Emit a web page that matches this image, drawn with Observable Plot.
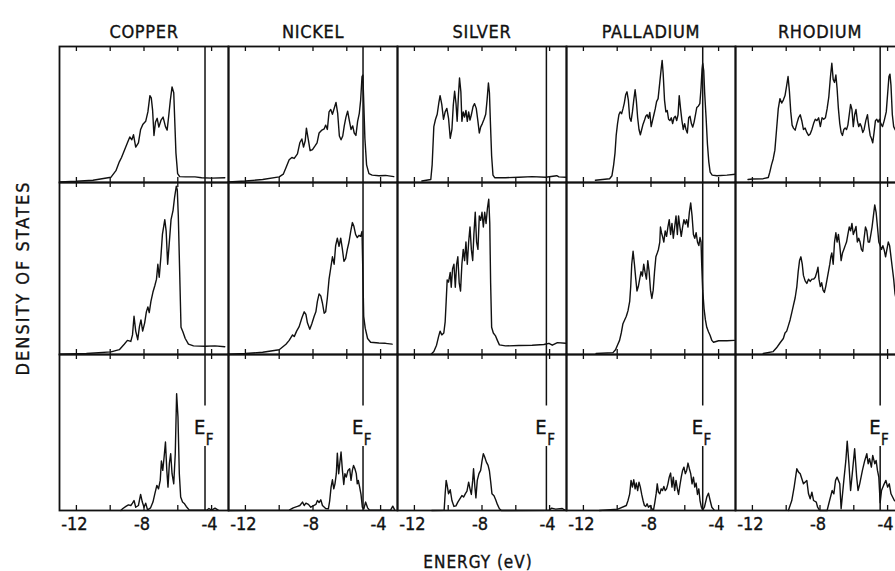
<!DOCTYPE html>
<html><head><meta charset="utf-8">
<script src="https://cdn.jsdelivr.net/npm/d3@7"></script>
<script src="https://cdn.jsdelivr.net/npm/@observablehq/plot@0.6"></script>
<style>
html,body{margin:0;padding:0;background:#fff;overflow:hidden;}
#fig{position:relative;width:895px;height:571px;overflow:hidden;background:#fff;}
#fig svg{position:absolute;left:0;overflow:visible;}
#fig svg text{letter-spacing:0.7px;stroke:#111;stroke-width:0.35px;}
#fig svg g[aria-label="x-axis tick label"] text{letter-spacing:0;}
.lbl{position:absolute;font-family:"DejaVu Sans Condensed","DejaVu Sans",sans-serif;font-stretch:condensed;color:#111;white-space:nowrap;transform-origin:center;-webkit-text-stroke:0.35px #111;}
</style></head><body><div id="fig"></div>
<script>
const metals = ["COPPER","NICKEL","SILVER","PALLADIUM","RHODIUM"];
const fermiEnergy = [-4.39,-5.04,-4.19,-4.94,-4.44];
const energyTicks = [-12,-10,-8,-6,-4];
const energyLabels = [-12,-8,-4];

// [energy (eV), density of states (% of panel height)]
const copperUpper = [[-12.98,0.4],[-12.0,0.9],[-11.02,1.7],[-9.95,3.9],[-9.66,8.7],[-9.46,15.2],[-9.33,18.4],[-9.17,23.4],[-8.98,29.2],[-8.84,33.5],[-8.72,31.4],[-8.62,35.1],[-8.49,26.0],[-8.33,29.2],[-8.20,39.0],[-8.06,42.9],[-7.90,45.0],[-7.77,51.9],[-7.65,63.9],[-7.57,62.3],[-7.49,53.0],[-7.41,34.6],[-7.32,44.4],[-7.22,47.2],[-7.12,40.7],[-6.99,45.9],[-6.87,48.1],[-6.73,41.1],[-6.63,38.5],[-6.54,48.7],[-6.44,60.6],[-6.34,70.3],[-6.24,66.0],[-6.19,48.7],[-6.11,21.6],[-6.01,6.5],[-5.89,4.3],[-5.56,4.1],[-4.98,4.1],[-4.59,3.5],[-4.0,3.2],[-3.22,3.5]];
const copperMiddle = [[-12.98,0.2],[-11.41,0.6],[-9.95,1.5],[-9.46,2.8],[-9.17,6.0],[-8.98,8.2],[-8.78,7.6],[-8.68,11.4],[-8.59,22.2],[-8.49,13.6],[-8.37,8.6],[-8.27,16.2],[-8.18,20.1],[-8.08,13.6],[-7.96,18.4],[-7.86,24.8],[-7.77,27.6],[-7.69,24.4],[-7.59,30.9],[-7.47,36.3],[-7.36,40.0],[-7.26,43.8],[-7.18,52.5],[-7.10,44.9],[-7.0,56.8],[-6.91,69.8],[-6.77,78.4],[-6.69,71.9],[-6.60,52.5],[-6.50,65.4],[-6.40,78.4],[-6.28,83.8],[-6.19,91.4],[-6.09,97.8],[-6.03,95.7],[-5.97,80.6],[-5.89,48.2],[-5.81,15.8],[-5.70,13.2],[-5.56,9.3],[-5.37,6.0],[-5.07,5.0],[-4.39,4.8],[-3.80,5.0],[-3.22,4.5]];
const copperLower = [[-9.37,0],[-9.27,1.1],[-9.07,2.6],[-8.92,3.6],[-8.78,3.2],[-8.68,4.7],[-8.59,6.4],[-8.49,2.1],[-8.33,3.2],[-8.20,10.3],[-8.10,5.4],[-8.0,2.1],[-7.90,4.7],[-7.79,0.4],[-7.61,1.7],[-7.47,5.4],[-7.36,10.7],[-7.24,16.1],[-7.14,13.9],[-7.04,19.3],[-6.97,31.7],[-6.89,25.7],[-6.81,34.3],[-6.73,43.9],[-6.65,25.7],[-6.58,15.0],[-6.50,30.0],[-6.42,36.4],[-6.34,23.6],[-6.24,17.1],[-6.15,36.4],[-6.07,74.9],[-5.99,60.0],[-5.91,23.6],[-5.83,8.6],[-5.72,5.4],[-5.60,4.3],[-5.50,2.6],[-5.33,0.4],[-4.29,0.2],[-4.16,1.3],[-4.0,0.2],[-3.80,1.5],[-3.61,0.2]];

const nickelUpper = [[-13.0,0.4],[-12.0,1.1],[-10.98,2.2],[-10.0,4.1],[-9.76,6.1],[-9.60,10.8],[-9.41,16.7],[-9.25,18.4],[-9.11,17.7],[-8.92,21.0],[-8.78,29.2],[-8.66,32.0],[-8.56,26.0],[-8.46,30.7],[-8.39,40.0],[-8.29,32.5],[-8.17,23.4],[-8.03,24.2],[-7.87,27.1],[-7.76,29.2],[-7.64,36.4],[-7.50,38.3],[-7.34,39.4],[-7.25,42.2],[-7.15,39.0],[-7.05,51.9],[-6.95,53.7],[-6.85,50.2],[-6.73,55.2],[-6.64,58.9],[-6.54,50.9],[-6.44,34.2],[-6.34,31.4],[-6.24,34.2],[-6.15,41.6],[-6.05,48.1],[-5.95,52.4],[-5.85,45.5],[-5.75,39.0],[-5.65,41.6],[-5.56,36.4],[-5.46,34.6],[-5.36,45.0],[-5.26,50.9],[-5.18,60.6],[-5.10,77.9],[-5.05,79.0],[-4.99,56.3],[-4.93,32.5],[-4.83,13.0],[-4.69,6.5],[-4.50,5.4],[-4.10,5.0],[-3.71,5.2],[-3.22,4.3]];
const nickelMiddle = [[-13.0,0.2],[-12.0,0.6],[-10.98,1.3],[-10.0,2.8],[-9.60,6.0],[-9.41,8.2],[-9.21,11.4],[-9.11,10.4],[-8.97,13.6],[-8.82,16.2],[-8.66,21.2],[-8.52,24.8],[-8.42,23.3],[-8.33,18.4],[-8.19,14.7],[-8.07,17.9],[-7.93,22.2],[-7.83,24.8],[-7.74,30.9],[-7.64,35.2],[-7.54,34.1],[-7.44,29.8],[-7.34,24.0],[-7.25,24.8],[-7.15,33.0],[-7.05,43.8],[-6.95,50.3],[-6.85,56.8],[-6.75,52.5],[-6.66,63.3],[-6.56,67.6],[-6.46,62.9],[-6.36,67.6],[-6.26,61.1],[-6.17,54.2],[-6.07,55.7],[-5.97,61.1],[-5.87,65.4],[-5.77,71.5],[-5.67,76.7],[-5.58,74.5],[-5.48,69.8],[-5.38,68.0],[-5.28,69.3],[-5.18,68.7],[-5.10,71.5],[-5.06,52.5],[-5.0,22.2],[-4.91,15.3],[-4.77,9.3],[-4.59,7.1],[-4.10,6.7],[-3.71,6.5],[-3.32,6.0]];
const nickelLower = [[-13.0,0],[-9.41,0.2],[-9.17,1.7],[-8.92,2.6],[-8.78,3.2],[-8.62,5.4],[-8.52,3.2],[-8.42,4.7],[-8.27,3.9],[-8.13,2.1],[-7.99,3.0],[-7.83,3.9],[-7.74,6.4],[-7.64,5.1],[-7.54,6.9],[-7.44,3.2],[-7.25,1.3],[-7.09,1.1],[-7.01,6.4],[-6.93,15.0],[-6.85,19.7],[-6.77,13.9],[-6.70,17.1],[-6.62,23.6],[-6.56,36.8],[-6.48,23.6],[-6.40,31.7],[-6.34,37.5],[-6.26,25.7],[-6.18,16.7],[-6.11,23.6],[-6.03,21.4],[-5.93,25.7],[-5.83,26.8],[-5.75,19.3],[-5.67,25.7],[-5.60,28.9],[-5.52,26.8],[-5.44,23.6],[-5.38,17.1],[-5.32,19.3],[-5.24,15.0],[-5.16,10.3],[-5.08,2.1],[-4.99,1.1],[-4.89,5.4],[-4.77,1.7],[-4.65,0.2],[-3.41,0.2],[-3.28,2.8],[-3.16,0.2]];

const silverUpper = [[-11.56,1.1],[-11.03,2.2],[-10.95,13.0],[-10.85,41.1],[-10.75,46.5],[-10.65,50.2],[-10.55,58.9],[-10.48,63.9],[-10.38,57.4],[-10.28,46.5],[-10.18,51.9],[-10.08,54.5],[-9.98,47.2],[-9.88,32.5],[-9.78,39.0],[-9.70,56.7],[-9.62,67.1],[-9.54,58.4],[-9.47,45.0],[-9.39,64.9],[-9.33,76.8],[-9.25,66.7],[-9.19,45.0],[-9.11,51.9],[-9.03,48.1],[-8.95,53.0],[-8.87,45.0],[-8.79,51.9],[-8.71,45.9],[-8.63,49.8],[-8.53,55.8],[-8.44,58.0],[-8.34,54.5],[-8.24,45.0],[-8.16,36.4],[-8.08,40.7],[-7.98,43.3],[-7.88,46.5],[-7.78,50.2],[-7.70,60.6],[-7.62,73.2],[-7.56,66.0],[-7.50,43.3],[-7.43,19.5],[-7.35,5.4],[-7.25,3.5],[-6.61,3.5],[-5.82,3.9],[-5.03,4.3],[-4.24,3.9],[-3.58,5.0],[-3.45,4.1],[-3.05,3.9]];
const silverMiddle = [[-11.01,0.2],[-10.85,1.7],[-10.69,5.4],[-10.57,10.4],[-10.48,13.6],[-10.38,11.4],[-10.26,12.5],[-10.18,19.0],[-10.12,30.9],[-10.06,43.4],[-9.98,42.1],[-9.88,47.7],[-9.82,39.1],[-9.74,49.9],[-9.66,52.5],[-9.58,39.1],[-9.50,52.5],[-9.43,56.8],[-9.35,41.7],[-9.27,36.9],[-9.19,52.5],[-9.11,61.1],[-9.03,54.6],[-8.95,65.4],[-8.87,52.5],[-8.79,65.4],[-8.71,74.1],[-8.63,61.1],[-8.55,54.6],[-8.48,69.8],[-8.40,82.7],[-8.32,65.4],[-8.24,61.1],[-8.16,80.6],[-8.08,78.0],[-8.0,82.7],[-7.92,74.1],[-7.84,82.7],[-7.76,76.2],[-7.68,84.9],[-7.60,90.3],[-7.54,76.2],[-7.49,41.7],[-7.43,15.8],[-7.33,12.5],[-7.21,11.0],[-7.09,8.2],[-6.97,5.6],[-6.61,5.0],[-5.82,5.2],[-5.03,5.4],[-4.34,5.8],[-4.04,6.5],[-3.84,5.4],[-3.54,6.9],[-3.05,6.5]];
const silverLower = [[-10.97,0],[-10.24,0.2],[-10.18,10.7],[-10.12,19.3],[-10.06,16.1],[-9.98,10.7],[-9.88,13.3],[-9.78,6.4],[-9.66,2.6],[-9.54,3.0],[-9.43,5.4],[-9.31,7.5],[-9.19,9.6],[-9.09,8.6],[-8.99,10.7],[-8.89,12.4],[-8.79,18.2],[-8.71,13.9],[-8.63,10.3],[-8.55,19.3],[-8.50,26.8],[-8.42,15.0],[-8.36,8.1],[-8.28,19.3],[-8.18,23.6],[-8.08,25.7],[-8.0,31.7],[-7.92,36.4],[-7.84,34.3],[-7.74,31.0],[-7.64,28.9],[-7.56,25.3],[-7.49,18.8],[-7.41,10.7],[-7.29,9.4],[-7.19,6.9],[-7.09,3.9],[-6.97,1.1],[-6.85,0],[-4.04,0.2],[-3.88,1.5],[-3.64,0.9],[-3.25,1.3],[-3.09,0.2]];

const palladiumUpper = [[-11.29,1.7],[-10.45,2.8],[-10.31,5.0],[-10.21,13.0],[-10.13,21.6],[-10.06,34.6],[-9.98,43.3],[-9.90,49.8],[-9.82,51.9],[-9.74,50.6],[-9.66,54.1],[-9.58,58.4],[-9.50,64.5],[-9.42,66.7],[-9.34,60.6],[-9.26,47.6],[-9.18,45.0],[-9.10,51.9],[-9.02,60.6],[-8.94,68.2],[-8.87,60.6],[-8.79,47.6],[-8.71,39.0],[-8.63,35.1],[-8.55,39.0],[-8.47,42.9],[-8.39,45.5],[-8.31,48.7],[-8.23,49.8],[-8.15,47.2],[-8.07,51.5],[-7.99,41.1],[-7.91,45.5],[-7.83,49.8],[-7.75,54.1],[-7.67,59.5],[-7.58,61.7],[-7.48,73.6],[-7.40,83.3],[-7.34,89.8],[-7.28,80.1],[-7.20,60.6],[-7.12,51.9],[-7.04,53.0],[-6.96,46.5],[-6.88,45.5],[-6.80,47.6],[-6.72,43.3],[-6.64,47.6],[-6.56,48.7],[-6.48,45.5],[-6.40,49.8],[-6.33,63.9],[-6.25,54.1],[-6.17,45.5],[-6.09,39.0],[-6.01,43.3],[-5.93,39.0],[-5.85,36.4],[-5.77,47.6],[-5.69,48.7],[-5.61,43.3],[-5.53,40.7],[-5.45,44.4],[-5.37,49.8],[-5.29,55.2],[-5.19,56.3],[-5.11,58.0],[-5.04,69.3],[-4.98,83.3],[-4.94,87.7],[-4.88,82.3],[-4.82,64.9],[-4.74,47.6],[-4.66,28.1],[-4.58,15.2],[-4.50,7.6],[-4.38,5.4],[-4.10,5.0],[-3.51,5.4],[-3.01,6.1]];
const palladiumMiddle = [[-11.25,0.6],[-10.25,1.1],[-10.10,2.8],[-9.96,6.0],[-9.86,8.2],[-9.76,12.5],[-9.66,17.9],[-9.56,20.1],[-9.46,22.2],[-9.36,25.5],[-9.26,30.9],[-9.20,39.5],[-9.14,52.5],[-9.06,60.0],[-8.98,52.5],[-8.90,43.8],[-8.83,36.9],[-8.75,39.5],[-8.67,43.8],[-8.59,48.2],[-8.51,45.6],[-8.43,52.5],[-8.35,47.7],[-8.27,43.8],[-8.19,54.6],[-8.11,48.2],[-8.03,37.4],[-7.95,32.6],[-7.87,37.4],[-7.79,48.2],[-7.71,56.8],[-7.63,59.0],[-7.56,61.1],[-7.48,65.4],[-7.44,74.1],[-7.38,70.8],[-7.32,68.7],[-7.24,65.4],[-7.16,71.9],[-7.08,68.7],[-7.0,74.1],[-6.92,78.4],[-6.84,69.8],[-6.76,76.2],[-6.68,67.6],[-6.60,74.1],[-6.52,80.6],[-6.44,69.8],[-6.37,80.6],[-6.29,74.1],[-6.21,68.7],[-6.13,74.1],[-6.05,78.4],[-5.97,75.8],[-5.89,78.4],[-5.81,74.1],[-5.73,82.7],[-5.65,88.1],[-5.57,80.6],[-5.49,69.8],[-5.41,67.6],[-5.33,70.8],[-5.25,65.4],[-5.17,63.3],[-5.10,68.0],[-5.04,65.4],[-5.0,52.5],[-4.94,37.4],[-4.86,26.6],[-4.78,20.1],[-4.70,15.8],[-4.60,13.2],[-4.50,11.0],[-4.40,8.2],[-4.30,7.1],[-4.0,8.0],[-3.51,8.0],[-3.07,8.2]];
const palladiumLower = [[-11.05,0],[-9.96,0.9],[-9.46,3.2],[-9.36,6.4],[-9.26,10.7],[-9.18,19.3],[-9.10,15.0],[-9.02,19.7],[-8.94,13.9],[-8.87,17.6],[-8.79,12.8],[-8.71,18.2],[-8.63,15.0],[-8.55,10.3],[-8.47,6.4],[-8.39,3.2],[-8.31,2.6],[-8.23,4.3],[-8.15,2.1],[-8.05,3.2],[-7.95,1.1],[-7.85,0.4],[-7.77,5.4],[-7.69,11.1],[-7.63,17.1],[-7.56,11.8],[-7.48,10.7],[-7.40,13.9],[-7.32,12.8],[-7.24,15.4],[-7.16,12.8],[-7.08,13.9],[-7.0,17.1],[-6.92,21.4],[-6.84,24.0],[-6.76,15.0],[-6.68,21.4],[-6.60,12.8],[-6.52,19.3],[-6.44,13.9],[-6.37,10.3],[-6.29,16.1],[-6.21,21.4],[-6.13,25.7],[-6.05,27.8],[-5.97,23.6],[-5.89,25.7],[-5.81,30.4],[-5.73,26.8],[-5.65,23.6],[-5.57,17.1],[-5.49,21.4],[-5.41,15.0],[-5.33,17.6],[-5.25,10.3],[-5.17,13.9],[-5.10,6.4],[-5.02,2.1],[-4.94,0.4],[-4.84,2.1],[-4.70,8.6],[-4.60,11.1],[-4.50,6.4],[-4.40,2.1],[-4.26,0.2]];

const rhodiumUpper = [[-12.26,2.2],[-12.0,2.6],[-11.36,2.8],[-11.06,3.7],[-10.97,7.6],[-10.87,13.0],[-10.77,17.3],[-10.67,23.8],[-10.57,39.0],[-10.47,54.1],[-10.37,61.7],[-10.27,58.4],[-10.17,60.6],[-10.07,63.9],[-9.97,71.4],[-9.89,77.9],[-9.81,67.1],[-9.73,51.9],[-9.65,42.2],[-9.57,40.0],[-9.47,38.5],[-9.37,43.3],[-9.27,47.6],[-9.17,49.8],[-9.07,45.0],[-8.98,39.0],[-8.88,40.0],[-8.78,36.8],[-8.68,34.6],[-8.58,35.7],[-8.48,39.0],[-8.38,43.3],[-8.28,46.5],[-8.18,45.5],[-8.08,47.6],[-7.98,41.1],[-7.88,47.6],[-7.78,46.5],[-7.68,47.6],[-7.58,54.1],[-7.48,62.8],[-7.38,77.9],[-7.30,87.7],[-7.22,75.8],[-7.14,73.6],[-7.06,79.0],[-6.99,69.3],[-6.91,54.1],[-6.83,43.3],[-6.75,36.8],[-6.67,34.6],[-6.59,39.0],[-6.51,40.0],[-6.43,39.0],[-6.35,42.2],[-6.27,49.8],[-6.19,57.4],[-6.11,53.7],[-6.03,41.1],[-5.95,49.8],[-5.87,53.7],[-5.79,45.5],[-5.71,41.1],[-5.63,43.3],[-5.55,41.1],[-5.47,36.8],[-5.39,39.0],[-5.29,45.5],[-5.19,49.8],[-5.11,41.1],[-5.03,34.6],[-4.96,32.5],[-4.88,29.2],[-4.80,36.8],[-4.72,45.5],[-4.64,46.5],[-4.56,44.4],[-4.48,46.5],[-4.40,43.3],[-4.30,41.1],[-4.20,45.5],[-4.08,51.9],[-4.0,64.9],[-3.92,77.9],[-3.86,79.7],[-3.80,71.4],[-3.72,49.8],[-3.64,41.1],[-3.56,39.0],[-3.46,36.8]];
const rhodiumMiddle = [[-11.36,0.6],[-10.77,1.7],[-10.57,3.9],[-10.37,6.7],[-10.17,9.3],[-10.07,12.5],[-9.97,13.6],[-9.87,16.8],[-9.77,20.1],[-9.67,24.4],[-9.57,28.7],[-9.47,33.0],[-9.37,39.5],[-9.29,48.2],[-9.21,54.6],[-9.13,56.8],[-9.05,52.5],[-8.98,46.0],[-8.88,42.8],[-8.78,41.3],[-8.68,43.8],[-8.58,42.5],[-8.48,43.8],[-8.38,43.8],[-8.28,44.9],[-8.18,48.2],[-8.12,50.8],[-8.06,43.8],[-7.98,39.5],[-7.90,41.7],[-7.82,37.4],[-7.74,36.1],[-7.66,39.5],[-7.58,43.8],[-7.50,48.2],[-7.42,52.5],[-7.36,56.8],[-7.30,59.0],[-7.22,52.5],[-7.14,65.4],[-7.06,70.8],[-6.99,65.4],[-6.91,69.8],[-6.83,63.3],[-6.75,54.6],[-6.67,59.0],[-6.59,61.1],[-6.51,63.3],[-6.43,65.4],[-6.35,69.8],[-6.27,74.1],[-6.19,71.9],[-6.11,76.2],[-6.03,69.8],[-5.95,71.9],[-5.87,74.5],[-5.79,65.4],[-5.71,67.6],[-5.63,65.4],[-5.55,61.1],[-5.47,60.0],[-5.39,67.6],[-5.31,74.1],[-5.23,71.9],[-5.15,65.4],[-5.07,65.4],[-4.99,69.8],[-4.92,74.1],[-4.84,80.6],[-4.76,87.0],[-4.68,82.7],[-4.60,74.1],[-4.52,65.4],[-4.44,63.3],[-4.36,61.1],[-4.28,63.3],[-4.20,60.7],[-4.12,56.8],[-4.04,61.1],[-3.96,65.4],[-3.88,63.3],[-3.80,56.8],[-3.72,50.3],[-3.64,43.8],[-3.56,35.2],[-3.46,30.9]];
const rhodiumLower = [[-9.87,0],[-9.67,6.4],[-9.53,15.0],[-9.37,26.8],[-9.27,24.6],[-9.17,23.6],[-8.98,17.1],[-8.78,19.3],[-8.68,10.7],[-8.58,7.5],[-8.48,11.8],[-8.38,6.4],[-8.22,5.4],[-8.14,2.1],[-8.02,0],[-7.58,0],[-7.48,4.3],[-7.28,12.8],[-7.18,10.7],[-7.08,19.3],[-6.99,21.4],[-6.83,17.1],[-6.75,1.1],[-6.59,19.3],[-6.47,32.1],[-6.39,44.5],[-6.29,30.0],[-6.19,12.8],[-6.09,23.6],[-5.95,39.6],[-5.83,21.4],[-5.75,12.8],[-5.65,17.1],[-5.49,25.7],[-5.35,32.1],[-5.23,36.4],[-5.15,30.0],[-5.07,33.2],[-4.96,27.8],[-4.88,35.3],[-4.76,30.0],[-4.68,32.1],[-4.60,25.7],[-4.52,21.4],[-4.44,5.0],[-4.36,12.8],[-4.24,16.1],[-4.10,19.3],[-4.0,15.0],[-3.90,17.1],[-3.80,10.7],[-3.60,6.4],[-3.46,5.4]];

const upperRow = [copperUpper, nickelUpper, silverUpper, palladiumUpper, rhodiumUpper];
const middleRow = [copperMiddle, nickelMiddle, silverMiddle, palladiumMiddle, rhodiumMiddle];
const lowerRow = [copperLower, nickelLower, silverLower, palladiumLower, rhodiumLower];

const toTable = row => row.flatMap((pts, i) => pts.map(([e, d]) => ({metal: metals[i], e, d})));
const fermi = metals.map((metal, i) => ({metal, ef: fermiEnergy[i]}));

const ink = "#111";
const fontFamily = '"DejaVu Sans Condensed","DejaVu Sans",sans-serif';
const panelW = 169.75, left = 57;

function makeRow({series, top, marginTop, h, marginBottom, kind}) {
  const marks = [
    Plot.frame({stroke: ink, strokeWidth: 1.8}),
    Plot.tickX(energyTicks, {x: d => d, insetBottom: h - 5, stroke: ink, strokeWidth: 1.3}),
    Plot.tickX(energyTicks, {x: d => d, insetTop: h - 5, stroke: ink, strokeWidth: 1.3}),
    Plot.line(toTable(series), {x: "e", y: "d", fx: "metal", stroke: ink, strokeWidth: 1.4, strokeLinejoin: "round"})
  ];
  if (kind === "lower") {
    marks.push(
      Plot.ruleX(fermi, {x: "ef", fx: "metal", y1: 67, y2: 100, stroke: ink, strokeWidth: 1.5}),
      Plot.ruleX(fermi, {x: "ef", fx: "metal", y1: 0, y2: 41, stroke: ink, strokeWidth: 1.5}),
      Plot.text(fermi, {x: "ef", y: 53, fx: "metal", text: () => "E", dx: -5, fontSize: 20, fill: ink}),
      Plot.text(fermi, {x: "ef", y: 45, fx: "metal", text: () => "F", dx: 5, fontSize: 15, fill: ink}),
      Plot.axisX({ticks: energyLabels, tickSize: 0, tickPadding: 7, dx: -2, tickFormat: d => String(d), label: null, fontSize: 18})
    );
  } else {
    marks.push(Plot.ruleX(fermi, {x: "ef", fx: "metal", stroke: ink, strokeWidth: 1.5}));
  }
  if (kind === "upper") {
    marks.push(Plot.text(metals, {fx: d => d, text: d => d, frameAnchor: "top", dy: -21, fontSize: 18, fill: ink}));
  }
  const svg = Plot.plot({
    width: left + panelW * metals.length,
    height: marginTop + h + marginBottom,
    marginLeft: left, marginRight: 0, marginTop, marginBottom,
    x: {domain: [-13, -3], axis: null, label: null},
    y: {domain: [0, 100], axis: null},
    fx: {domain: metals, padding: 0, axis: null},
    style: {fontFamily, fontSize: "18px", background: "transparent", overflow: "visible", maxWidth: "none", color: ink},
    marks
  });
  svg.style.top = top + "px";
  return svg;
}

const fig = document.getElementById("fig");
fig.append(makeRow({series: upperRow, top: 0, marginTop: 46, h: 136, marginBottom: 0, kind: "upper"}));
fig.append(makeRow({series: middleRow, top: 182, marginTop: 0, h: 172, marginBottom: 0, kind: "middle"}));
fig.append(makeRow({series: lowerRow, top: 354, marginTop: 0, h: 156, marginBottom: 32, kind: "lower"}));

const xl = document.createElement("div");
xl.className = "lbl";
xl.textContent = "ENERGY (eV)";
Object.assign(xl.style, {left: "478px", top: "562px", fontSize: "17px", letterSpacing: "1px", transform: "translate(-50%,-50%)"});
fig.append(xl);

const yl = document.createElement("div");
yl.className = "lbl";
yl.textContent = "DENSITY OF STATES";
Object.assign(yl.style, {left: "22px", top: "278px", fontSize: "18px", letterSpacing: "2px", transform: "translate(-50%,-50%) rotate(-90deg)"});
fig.append(yl);
</script></body></html>
